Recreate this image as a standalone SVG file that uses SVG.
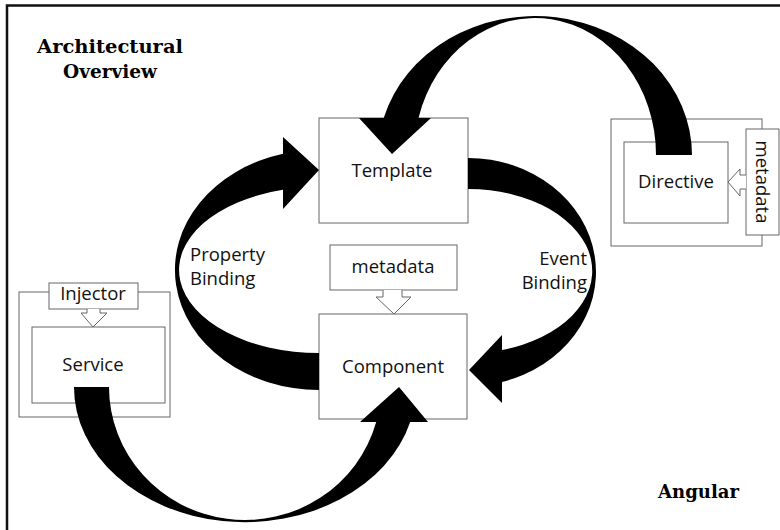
<svg xmlns="http://www.w3.org/2000/svg" width="780" height="530" viewBox="0 0 780 530">
<style>
.box{fill:#fff;stroke:#666;stroke-width:1}
.lbl{font-family:"Open Sans","Liberation Sans",sans-serif;font-size:18.5px;fill:#111}
.mid{text-anchor:middle}
.title{font-family:"DejaVu Serif","Liberation Serif",serif;font-weight:bold;font-size:18px;fill:#000;text-anchor:middle}
.arc{fill:#000;stroke:none}
</style>
<rect x="0" y="0" width="780" height="530" fill="#fff"/>
<rect x="7" y="5.5" width="800" height="600" fill="none" stroke="#111" stroke-width="2.5"/>

<g id="title">
<text class="title" x="110" y="53" textLength="146" lengthAdjust="spacingAndGlyphs">Architectural</text>
<text class="title" x="110" y="78" textLength="94" lengthAdjust="spacingAndGlyphs">Overview</text>
</g>
<g id="angular">
<text class="title" x="698.5" y="498" textLength="81" lengthAdjust="spacingAndGlyphs">Angular</text>
</g>

<g id="template">
<rect class="box" x="319" y="118" width="149" height="105"/>
<text class="lbl mid" x="392" y="177">Template</text>
</g>

<g id="component-metadata">
<rect class="box" x="330" y="245" width="127" height="45"/>
<text class="lbl mid" x="393" y="273">metadata</text>
<path class="box" d="M383 290 L383 297 L376 297 L394 314 L411 297 L402 297 L402 290"/>
</g>

<g id="component">
<rect class="box" x="319" y="314" width="148" height="105"/>
<text class="lbl mid" x="393" y="373">Component</text>
</g>

<g id="service">
<rect class="box" x="19" y="292" width="151" height="125"/>
<rect class="box" x="32" y="327" width="133" height="76"/>
<text class="lbl mid" x="93" y="371">Service</text>
</g>

<g id="injector">
<rect class="box" x="49" y="283" width="89" height="26"/>
<text class="lbl mid" x="93" y="300">Injector</text>
<path class="box" d="M87 309 L87 313 L81 313 L93 327 L107 313 L100 313 L100 309"/>
</g>

<g id="directive">
<rect class="box" x="611" y="119" width="151" height="127"/>
<rect class="box" x="624" y="142" width="104" height="81"/>
<text class="lbl mid" x="676" y="188">Directive</text>
</g>

<g id="directive-metadata">
<rect class="box" x="746" y="129" width="33" height="106"/>
<path class="box" d="M746 175 L740 175 L740 169 L728 182 L740 196 L740 189 L746 189"/>
<text class="lbl mid" transform="translate(756 182) rotate(90)" x="0" y="0">metadata</text>
</g>

<g id="connectors">
<path class="arc" d="M692 155 A157 139 0 0 0 383.7 118 L359 118 L392 154 L431 118 L418.5 118 A121 137 0 0 1 656 155 Z"/>
<path class="arc" d="M319 390 A144 120 0 0 1 283 153.8 L283 137 L319 170 L283 209 L283 189.8 A140 83 0 0 0 319 353 Z"/>
<path class="arc" d="M468 158 A128 114 0 0 1 502 381.9 L502 403 L469 370 L502 335 L502 349.9 A124 82 0 0 0 468 189 Z"/>
<path class="arc" d="M74 387 A171 135 0 0 0 410.2 422 L428 422 L399 387 L360 422 L376.2 422 A136 133 0 0 1 109 387 Z"/>
</g>

<g id="labels">
<text class="lbl" x="190" y="261">Property</text>
<text class="lbl" x="190" y="285">Binding</text>
<text class="lbl" x="587" y="265" text-anchor="end">Event</text>
<text class="lbl" x="587" y="289" text-anchor="end">Binding</text>
</g>
</svg>
